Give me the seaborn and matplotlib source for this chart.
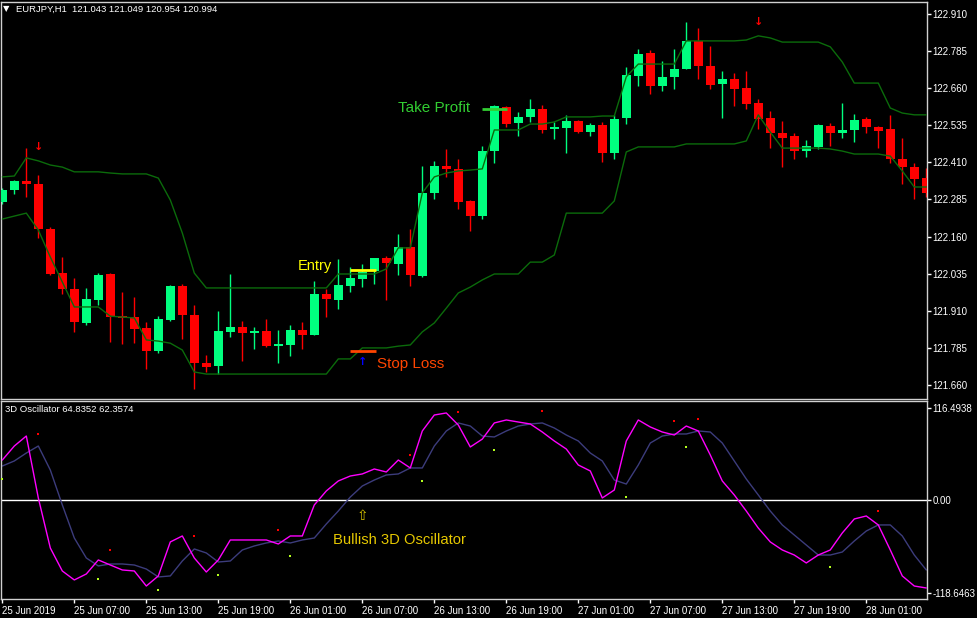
import numpy as np
import pandas as pd
import matplotlib
matplotlib.use("Agg")
import matplotlib.pyplot as plt
import seaborn as sns

# EURJPY H1 candles, bar 0 = start of 25 Jun 2019
opens = [122.277, 122.317, 122.347, 122.337, 122.186, 122.037, 121.983, 121.869, 121.946, 122.034,
         121.892, 121.889, 121.852, 121.775, 121.879, 121.994, 121.896, 121.734, 121.724, 121.839,
         121.855, 121.835, 121.842, 121.791, 121.795, 121.845, 121.828, 121.967, 121.946, 121.994,
         122.017, 122.044, 122.088, 122.068, 122.125, 122.027, 122.307, 122.398, 122.388, 122.280,
         122.229, 122.448, 122.597, 122.543, 122.563, 122.590, 122.522, 122.526, 122.549, 122.512,
         122.536, 122.442, 122.559, 122.701, 122.778, 122.667, 122.698, 122.725, 122.819, 122.735,
         122.674, 122.691, 122.660, 122.610, 122.559, 122.509, 122.499, 122.448, 122.462, 122.533,
         122.509, 122.519, 122.556, 122.529, 122.522, 122.421, 122.394, 122.357]
highs = [122.324, 122.351, 122.458, 122.367, 122.192, 122.091, 122.020, 121.987, 122.037, 122.036,
         121.973, 121.956, 121.872, 121.892, 121.997, 122.000, 121.930, 121.761, 121.909, 122.034,
         121.876, 121.855, 121.882, 121.845, 121.862, 121.872, 122.010, 121.983, 122.084, 122.057,
         122.068, 122.088, 122.095, 122.169, 122.186, 122.398, 122.415, 122.455, 122.421, 122.282,
         122.465, 122.602, 122.600, 122.580, 122.624, 122.603, 122.546, 122.570, 122.553, 122.543,
         122.546, 122.570, 122.731, 122.792, 122.789, 122.752, 122.792, 122.883, 122.863, 122.802,
         122.718, 122.711, 122.718, 122.624, 122.583, 122.549, 122.509, 122.485, 122.538, 122.543,
         122.610, 122.573, 122.563, 122.531, 122.570, 122.492, 122.408, 122.391]
lows = [122.270, 122.303, 122.293, 122.155, 122.031, 121.967, 121.839, 121.862, 121.930, 121.805,
        121.798, 121.801, 121.714, 121.768, 121.876, 121.815, 121.647, 121.704, 121.697, 121.822,
        121.741, 121.781, 121.788, 121.734, 121.758, 121.781, 121.828, 121.889, 121.916, 121.973,
        121.990, 122.000, 121.946, 122.031, 121.994, 122.024, 122.287, 122.360, 122.253, 122.179,
        122.219, 122.408, 122.529, 122.499, 122.546, 122.509, 122.489, 122.442, 122.510, 122.499,
        122.411, 122.421, 122.539, 122.667, 122.640, 122.650, 122.657, 122.723, 122.691, 122.657,
        122.559, 122.600, 122.590, 122.522, 122.458, 122.394, 122.421, 122.428, 122.455, 122.465,
        122.492, 122.479, 122.509, 122.458, 122.408, 122.337, 122.287, 122.293]
closes = [122.317, 122.347, 122.337, 122.186, 122.034, 121.983, 121.872, 121.950, 122.031, 121.889,
          121.886, 121.849, 121.775, 121.882, 121.994, 121.896, 121.734, 121.721, 121.842, 121.855,
          121.835, 121.842, 121.791, 121.798, 121.845, 121.828, 121.967, 121.950, 121.997, 122.020,
          122.041, 122.088, 122.071, 122.125, 122.031, 122.307, 122.398, 122.388, 122.277, 122.229,
          122.448, 122.600, 122.539, 122.563, 122.590, 122.519, 122.529, 122.549, 122.512, 122.536,
          122.442, 122.556, 122.704, 122.775, 122.667, 122.698, 122.725, 122.819, 122.735, 122.671,
          122.691, 122.657, 122.607, 122.556, 122.509, 122.492, 122.448, 122.465, 122.536, 122.509,
          122.519, 122.553, 122.529, 122.516, 122.421, 122.394, 122.354, 122.307]

# channel lines
upper_band = [122.361, 122.364, 122.425, 122.415, 122.401, 122.394, 122.378, 122.378, 122.378, 122.374,
              122.371, 122.371, 122.371, 122.357, 122.283, 122.172, 122.037, 121.987, 121.987, 121.987,
              121.987, 121.987, 121.987, 121.987, 121.987, 121.987, 121.987, 121.987, 122.034, 122.034,
              122.034, 122.034, 122.051, 122.122, 122.122, 122.307, 122.361, 122.374, 122.381, 122.384,
              122.388, 122.519, 122.519, 122.519, 122.539, 122.539, 122.546, 122.563, 122.563, 122.563,
              122.566, 122.566, 122.698, 122.741, 122.741, 122.741, 122.741, 122.819, 122.819, 122.819,
              122.819, 122.819, 122.822, 122.836, 122.829, 122.815, 122.815, 122.815, 122.815, 122.799,
              122.748, 122.677, 122.677, 122.677, 122.593, 122.576, 122.570, 122.570]
lower_band = [122.219, 122.229, 122.239, 122.182, 122.091, 122.007, 121.923, 121.923, 121.923, 121.892,
              121.889, 121.886, 121.812, 121.808, 121.801, 121.778, 121.704, 121.697, 121.697, 121.697,
              121.697, 121.697, 121.697, 121.697, 121.697, 121.697, 121.697, 121.697, 121.748, 121.748,
              121.785, 121.785, 121.785, 121.791, 121.795, 121.839, 121.869, 121.919, 121.970, 121.990,
              122.014, 122.034, 122.034, 122.034, 122.074, 122.074, 122.098, 122.239, 122.239, 122.239,
              122.239, 122.280, 122.445, 122.462, 122.462, 122.462, 122.462, 122.472, 122.472, 122.472,
              122.472, 122.472, 122.482, 122.570, 122.512, 122.458, 122.458, 122.458, 122.458, 122.455,
              122.448, 122.438, 122.438, 122.438, 122.431, 122.381, 122.327, 122.327]

# 3D oscillator
osc_fast = [50.4, 68.2, 80.9, 2.2, -61.4, -90.6, -102.0, -94.4, -76.6, -83.0,
            -89.3, -90.6, -109.7, -96.9, -53.7, -46.1, -74.1, -91.9, -76.6, -51.2,
            -51.2, -51.2, -51.2, -56.3, -46.1, -46.1, -6.7, 11.1, 23.8, 30.1,
            32.7, 39.0, 35.2, 50.4, 40.3, 87.3, 107.6, 110.2, 94.9, 67.0,
            77.0, 97.5, 101.3, 98.7, 96.2, 86.0, 74.6, 64.4, 44.1, 36.5,
            2.2, 12.3, 74.6, 101.3, 92.4, 86.0, 82.2, 93.6, 87.3, 56.8,
            23.8, 6.0, -14.4, -36.0, -53.7, -63.9, -70.3, -80.4, -70.3, -63.9,
            -42.3, -24.5, -20.7, -32.1, -63.9, -96.9, -109.7, -112.2]
osc_slow = [42.8, 49.2, 59.3, 68.2, 37.7, -6.7, -48.7, -74.1, -84.2, -81.7,
            -81.7, -83.0, -88.1, -98.2, -96.9, -77.9, -62.6, -67.7, -79.2, -77.9,
            -63.9, -58.8, -55.0, -52.5, -55.0, -51.2, -48.7, -30.9, -14.4, 3.4,
            17.4, 25.0, 31.4, 32.7, 40.3, 40.3, 68.2, 87.3, 97.5, 93.6,
            80.9, 79.7, 87.3, 93.6, 96.2, 97.5, 91.1, 82.2, 74.6, 59.3,
            49.2, 25.0, 19.9, 44.1, 72.0, 80.9, 83.5, 83.5, 87.3, 86.0,
            72.0, 49.2, 26.3, 6.0, -14.4, -32.1, -44.9, -57.6, -70.3, -70.3,
            -66.5, -52.5, -39.8, -32.1, -32.1, -46.1, -70.3, -89.3]
red_dot_bars = [3, 9, 16, 23, 34, 38, 45, 56, 58, 73]
red_dot_vals = [83.5, -63.9, -46.1, -38.5, 56.8, 111.4, 112.7, 100.0, 102.5, -14.4]
yel_dot_bars = [0, 8, 13, 18, 24, 35, 41, 52, 57, 69]
yel_dot_vals = [26.3, -100.8, -114.7, -95.7, -71.5, 23.8, 63.1, 3.4, 67.0, -85.5]

price_ticks = [121.660, 121.785, 121.910, 122.035, 122.160, 122.285, 122.410, 122.535, 122.660, 122.785, 122.910]
osc_ticks = [116.4938, 0.0, -118.6463]
osc_tick_labels = ["116.4938", "0.00", "-118.6463"]
time_tick_bars = [0, 6, 12, 18, 24, 30, 36, 42, 48, 54, 60, 66, 72]
time_labels = ["25 Jun 2019", "25 Jun 07:00", "25 Jun 13:00", "25 Jun 19:00", "26 Jun 01:00",
               "26 Jun 07:00", "26 Jun 13:00", "26 Jun 19:00", "27 Jun 01:00", "27 Jun 07:00",
               "27 Jun 13:00", "27 Jun 19:00", "28 Jun 01:00"]

# trade markers (bar, price)
entry_price = 122.047
stop_price = 121.775
target_price = 122.590
sell_arrows_bar = [3, 63]
sell_arrows_price = [122.462, 122.883]
buy_arrow_bar = 30
buy_arrow_price = 121.737

df = pd.DataFrame({"bar": np.arange(len(opens)), "open": opens, "high": highs,
                   "low": lows, "close": closes, "upper": upper_band, "lower": lower_band,
                   "fast": osc_fast, "slow": osc_slow})

sns.set_theme(style="dark", rc={"axes.facecolor": "black", "figure.facecolor": "black"})
plt.rcParams["font.family"] = ["Liberation Sans", "DejaVu Sans"]

BULL = "#00ff7f"
BEAR = "#ff0000"
BAND = "#0b6b0b"

fig = plt.figure(figsize=(9.77, 6.18), dpi=100)
fig.patch.set_facecolor("black")
ax1 = fig.add_axes([1 / 977, 1 - 399 / 618, 926 / 977, 397 / 618])
ax2 = fig.add_axes([1 / 977, 1 - 599 / 618, 926 / 977, 198 / 618])

# ---------------- price panel ----------------
bull = df["close"] >= df["open"]
cols = np.where(bull, BULL, BEAR)
ax1.vlines(df["bar"], df["low"], df["high"], colors=cols, lw=1, zorder=2)
body_lo = np.minimum(df["open"], df["close"])
body_h = np.maximum((df["close"] - df["open"]).abs(), 0.004)
ax1.bar(df["bar"], body_h, bottom=body_lo, width=0.72, color=cols, linewidth=0, zorder=3)

sns.lineplot(data=df, x="bar", y="upper", color=BAND, lw=1, ax=ax1, zorder=4)
sns.lineplot(data=df, x="bar", y="lower", color=BAND, lw=1, ax=ax1, zorder=4)

# trade annotations
ax1.text(24.6, 122.061, "Entry", color="#ffff00", fontsize=10.5, va="center", ha="left")
ax1.hlines(entry_price, 29.0, 31.1, color="#ffff00", lw=2, zorder=5)
ax1.text(33.0, 122.593, "Take Profit", color="#32cd32", fontsize=11, va="center", ha="left")
ax1.hlines(target_price, 40.0, 42.1, color="#32cd32", lw=2, zorder=5)
ax1.text(31.2, 121.731, "Stop Loss", color="#ff4500", fontsize=11, va="center", ha="left")
ax1.hlines(stop_price, 29.0, 31.1, color="#ff4500", lw=2, zorder=5)
ax1.text(buy_arrow_bar, buy_arrow_price, "↑", color="#0000ff", fontsize=8, fontweight="bold",
         ha="center", va="center", family=["DejaVu Sans"])
for b, p in zip(sell_arrows_bar, sell_arrows_price):
    ax1.text(b, p, "↓", color="#ff0000", fontsize=8, fontweight="bold",
             ha="center", va="center", family=["DejaVu Sans"])

ax1.set_xlim(-0.11, 77.06)
ax1.set_ylim(121.613, 122.950)
ax1.set_xticks([])
ax1.yaxis.tick_right()
ax1.set_yticks(price_ticks)
ax1.set_yticklabels([f"{v:.3f}" for v in price_ticks])
ax1.tick_params(axis="y", colors="white", labelcolor="white", length=3, width=1,
                labelsize=7, pad=1, right=True, left=False)
ax1.set_xlabel("")
ax1.set_ylabel("")

# ---------------- oscillator panel ----------------
ax2.axhline(0, color="white", lw=1, zorder=1)
sns.lineplot(data=df, x="bar", y="slow", color="#3c3c7c", lw=1, ax=ax2, zorder=2)
sns.lineplot(data=df, x="bar", y="fast", color="#ff00ff", lw=1, ax=ax2, zorder=3)
sns.scatterplot(x=red_dot_bars, y=red_dot_vals, color="#ff0000", marker="s", s=3,
                linewidth=0, ax=ax2, zorder=4)
sns.scatterplot(x=yel_dot_bars, y=yel_dot_vals, color="#b4ff1e", marker="s", s=3,
                linewidth=0, ax=ax2, zorder=4)
ax2.text(30, -20.7, "⇧", color="#d4c000", fontsize=10, ha="center", va="center",
         family=["DejaVu Sans"])
ax2.text(27.56, -51.2, "Bullish 3D Oscillator", color="#e6c800", fontsize=10.6,
         va="center", ha="left")

ax2.set_xlim(-0.11, 77.06)
ax2.set_ylim(-126.2, 125.4)
ax2.yaxis.tick_right()
ax2.set_yticks(osc_ticks)
ax2.set_yticklabels(osc_tick_labels)
ax2.tick_params(axis="y", colors="white", labelcolor="white", length=3, width=1,
                labelsize=7, pad=1, right=True, left=False)
ax2.set_xticks(time_tick_bars)
ax2.set_xticklabels(time_labels, ha="left")
ax2.tick_params(axis="x", colors="white", labelcolor="white", length=3, width=1,
                labelsize=7, pad=2, bottom=True)
ax2.set_xlabel("")
ax2.set_ylabel("")

for ax in (ax1, ax2):
    ax.set_facecolor("black")
    ax.grid(False)
    for side, sp in ax.spines.items():
        sp.set_visible(True)
        sp.set_color("#d0d0d0")
        sp.set_linewidth(1)

# header texts
fig.text(6 / 977, 1 - 9 / 618, "▼", color="white", fontsize=6, va="center", ha="center",
         family=["DejaVu Sans"])
fig.text(16 / 977, 1 - 9 / 618, "EURJPY,H1  121.043 121.049 120.954 120.994",
         color="white", fontsize=6.8, va="center", ha="left")
fig.text(5 / 977, 1 - 410 / 618, "3D Oscillator 64.8352 62.3574",
         color="white", fontsize=6.8, va="center", ha="left")

fig.savefig("out.png", dpi=100, facecolor="black")
